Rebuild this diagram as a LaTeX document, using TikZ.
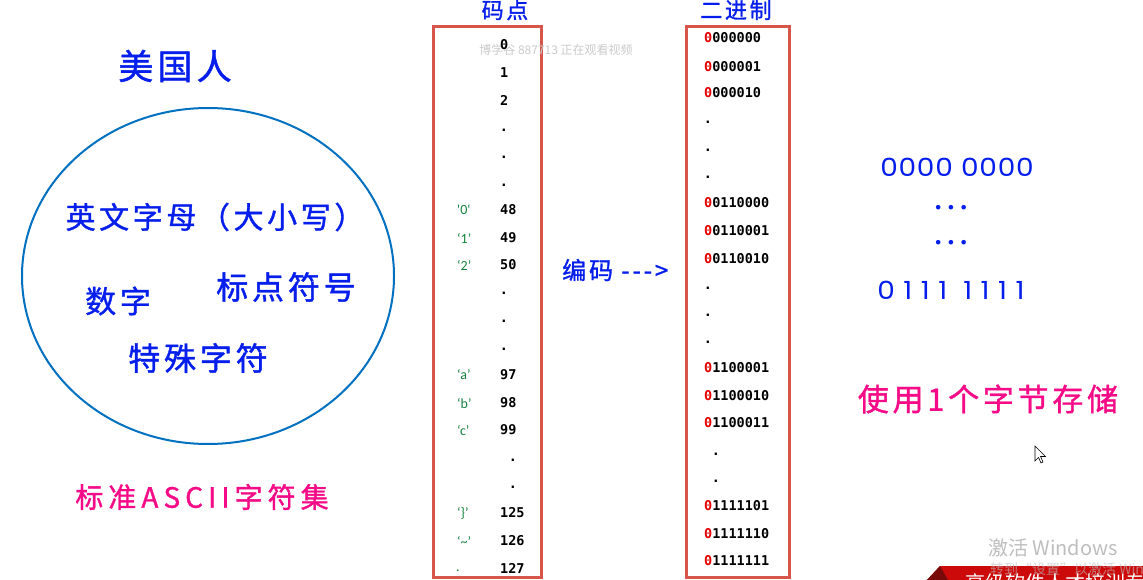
\documentclass[tikz,border=0pt]{standalone}
\usepackage{fontspec}
\usepackage{xcolor}
\usepackage{tikz}
\usetikzlibrary{arrows.meta, positioning, shapes.geometric, calc}

\newfontfamily\cjk[LetterSpace=12, FakeBold=1.2]{Noto Sans CJK SC}
\newfontfamily\cjkplain{Noto Sans CJK SC}
\newfontfamily\codefont{DejaVu Sans Mono}
\newfontfamily\labelfont{Carlito}
\newfontfamily\bitfont[FakeStretch=1.12, LetterSpace=3]{Poppins}
\newfontfamily\symfont{DejaVu Sans}

\definecolor{penblue}{RGB}{5,30,235}
\definecolor{ringblue}{RGB}{0,112,192}
\definecolor{framered}{RGB}{214,86,76}
\definecolor{markpink}{RGB}{245,10,135}
\definecolor{quotegreen}{RGB}{20,130,60}
\definecolor{bitred}{RGB}{230,0,0}
\definecolor{markgray}{RGB}{190,190,190}
\definecolor{bannerred}{RGB}{205,10,10}
\definecolor{bannerdark}{RGB}{120,10,10}

\begin{document}
\begin{tikzpicture}[x=1pt, y=-1pt,
  hand/.style={inner sep=0pt, text=penblue, font=\cjk\fontsize{#1}{#1}\selectfont},
  pinknote/.style={hand=#1, text=markpink},
  frame/.style={draw=framered, line width=3pt, inner sep=0pt},
  num/.style={anchor=west, inner sep=0pt, font=\codefont\bfseries\fontsize{13.5}{14}\selectfont},
  dotmark/.style={inner sep=0pt, font=\codefont\bfseries\fontsize{13.5}{14}\selectfont},
  chr/.style={anchor=west, inner sep=0pt, text=quotegreen, font=\labelfont\fontsize{14}{14}\selectfont},
  bitline/.style={inner sep=0pt, text=penblue, font=\bitfont\fontsize{25}{25}\selectfont},
  dotrow/.style={inner sep=0pt, text=penblue, font=\symfont\bfseries\fontsize{13}{13}\selectfont},
  faint/.style={inner sep=0pt, text=markgray, font=\cjkplain\fontsize{#1}{#1}\selectfont}
]
  \fill[white] (0,0) rectangle (1143,580);
  \useasboundingbox (0,0) rectangle (1143,580);

  % left: the character set
  \node[hand=35] (who) at (175,66) {美国人};
  \node[draw=ringblue, line width=2pt, ellipse, minimum width=372pt, minimum height=336pt] (charset) at (208,276) {};
  \node[hand=30] (letters) at (215,217) {英文字母（大小写）};
  \node[hand=31] (digits) at (118,301) {数字};
  \node[hand=32] (punct) at (286,287) {标点符号};
  \node[hand=32] (special) at (198,358) {特殊字符};
  \node[pinknote=28, font=\cjk\fontsize{28}{28}\selectfont\addfontfeature{LetterSpace=18}] (ascii) at (202,497) {标准ASCII字符集};

  % code point column
  \node[hand=22] (cphead) at (505,10) {码点};
  \node[frame, minimum width=108pt, minimum height=550pt] (cpbox) at (487,302) {};
  \node[faint=12, text=markgray!80] (viewer) at (556,50) {博学谷 887713 正在观看视频};
  \node[num] (cp0) at (500,45) {0};
  \node[num] (cp1) at (500,73) {1};
  \node[num] (cp2) at (500,100) {2};
  \node[dotmark] (cpd1) at (504,130) {.};
  \node[dotmark] (cpd2) at (504,157) {.};
  \node[dotmark] (cpd3) at (504,185) {.};
  \node[chr] (ch48) at (457,210) {'0'};   \node[num] (cp48) at (500,210) {48};
  \node[chr] (ch49) at (457,238) {‘1’};   \node[num] (cp49) at (500,238) {49};
  \node[chr] (ch50) at (457,265) {‘2’};   \node[num] (cp50) at (500,265) {50};
  \node[dotmark] (cpd4) at (504,293) {.};
  \node[dotmark] (cpd5) at (504,321) {.};
  \node[dotmark] (cpd6) at (504,349) {.};
  \node[chr] (ch97) at (457,375) {‘a’};   \node[num] (cp97) at (500,375) {97};
  \node[chr] (ch98) at (457,403) {‘b’};   \node[num] (cp98) at (500,403) {98};
  \node[chr] (ch99) at (457,430) {‘c’};   \node[num] (cp99) at (500,430) {99};
  \node[dotmark] (cpd7) at (513,460) {.};
  \node[dotmark] (cpd8) at (513,487) {.};
  \node[chr] (ch125) at (457,513) {‘\}’}; \node[num] (cp125) at (500,513) {125};
  \node[chr] (ch126) at (457,541) {‘\textasciitilde’}; \node[num] (cp126) at (500,541) {126};
  \node[chr] (ch127) at (456,571) {.};    \node[num] (cp127) at (500,568) {127};

  % binary column
  \node[hand=22] (binhead) at (736,10) {二进制};
  \node[frame, minimum width=103pt, minimum height=550pt] (binbox) at (737.5,302) {};
  \node[num] (bin0) at (704,38) {\textcolor{bitred}{0}000000};
  \node[num] (bin1) at (704,67) {\textcolor{bitred}{0}000001};
  \node[num] (bin2) at (704,93) {\textcolor{bitred}{0}000010};
  \node[dotmark] (bind1) at (708,122) {.};
  \node[dotmark] (bind2) at (708,150) {.};
  \node[dotmark] (bind3) at (708,177) {.};
  \node[num] (bin48) at (704,203) {\textcolor{bitred}{0}0110000};
  \node[num] (bin49) at (704,231) {\textcolor{bitred}{0}0110001};
  \node[num] (bin50) at (704,259) {\textcolor{bitred}{0}0110010};
  \node[dotmark] (bind4) at (708,288) {.};
  \node[dotmark] (bind5) at (708,315) {.};
  \node[dotmark] (bind6) at (708,342) {.};
  \node[num] (bin97) at (704,368) {\textcolor{bitred}{0}1100001};
  \node[num] (bin98) at (704,396) {\textcolor{bitred}{0}1100010};
  \node[num] (bin99) at (704,423) {\textcolor{bitred}{0}1100011};
  \node[dotmark] (bind7) at (716,454) {.};
  \node[dotmark] (bind8) at (716,481) {.};
  \node[num] (bin125) at (704,506) {\textcolor{bitred}{0}1111101};
  \node[num] (bin126) at (704,534) {\textcolor{bitred}{0}1111110};
  \node[num] (bin127) at (704,561) {\textcolor{bitred}{0}1111111};

  \node[hand=24, anchor=west] (encode) at (562,270) {编码 -{}-{}->};

  % right: one byte
  \node[bitline] (allzero) at (957,167) {0000 0000};
  \node[dotrow] (gapa) at (951,209) {• • •};
  \node[dotrow] (gapb) at (951,244) {• • •};
  \node[bitline, font=\bitfont\fontsize{25}{25}\selectfont\addfontfeature{LetterSpace=34}] (maxval) at (951,290) {0111 1111};
  \node[pinknote=31] (onebyte) at (988,399) {使用1个字节存储};

  % screen leftovers
  \filldraw[fill=white, draw=black, line width=0.6pt] (1035,446) -- ++(0,15) -- ++(3.5,-3.5)
    -- ++(2.5,5.5) -- ++(2,-1) -- ++(-2.5,-5.5) -- ++(5,0) -- cycle;
  \node[faint=20, anchor=west] (winmark) at (988,548) {激活 Windows};
  \begin{scope}
    \clip (0,0) rectangle (1143,580);
    \fill[bannerred] (940,566) -- (1143,566) -- (1143,580) -- (927,580) -- cycle;
    \fill[bannerdark] (940,566) -- (948,580) -- (927,580) -- cycle;
    \node[anchor=west, inner sep=0pt, text=white, font=\cjkplain\fontsize{20}{20}\selectfont] (banner) at (965,583) {高级软件人才培训专家};
    \node[faint=14, anchor=west, opacity=0.6] (winhint) at (990,569) {转到“设置”以激活 Windows。};
  \end{scope}
\end{tikzpicture}
\end{document}
